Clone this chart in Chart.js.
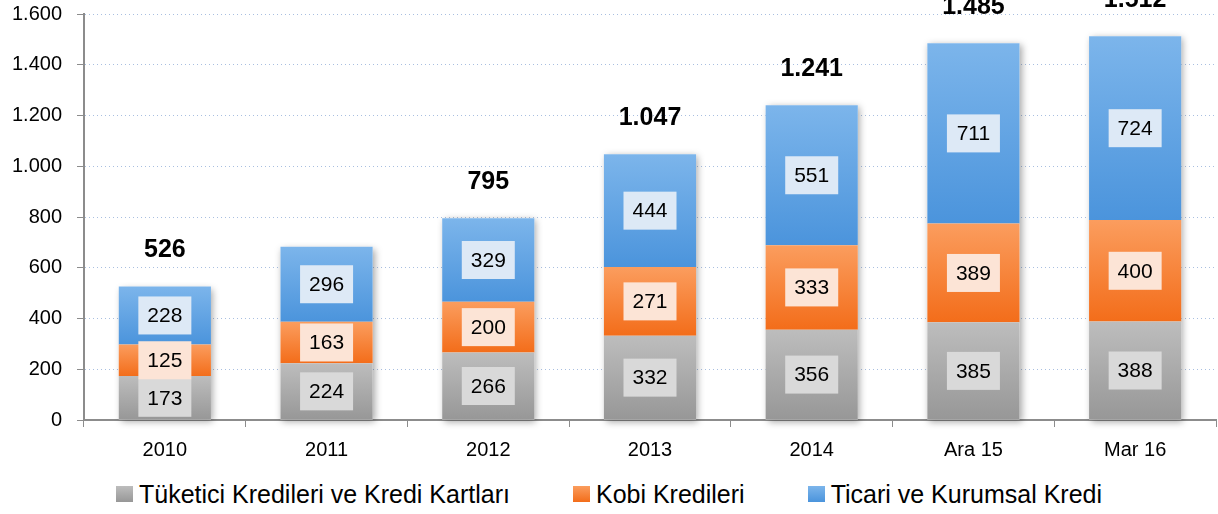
<!DOCTYPE html>
<html>
<head>
<meta charset="utf-8">
<script src="https://cdn.jsdelivr.net/npm/chart.js@4.4.0/dist/chart.umd.min.js"></script>
<style>
  html, body { margin: 0; padding: 0; background: #fff; }
  #wrap { width: 1218px; height: 514px; position: relative; }
  #chartBox { position: absolute; left: 0; top: 0; width: 1218px; height: 470px; }
  #legend {
    position: absolute; left: 0; top: 480px; width: 1218px; height: 28px;
    display: flex; justify-content: center; align-items: center; gap: 63px;
    font-family: 'Liberation Sans', Arial, sans-serif; font-size: 25px; line-height: 28px; color: #000;
  }
  #legend .item { display: flex; align-items: center; white-space: nowrap; }
  #legend .sw { width: 17px; height: 16px; margin-right: 6px; }
</style>
</head>
<body>
<div id="wrap">
  <div id="chartBox"><canvas id="myChart"></canvas></div>
  <div id="legend"></div>
</div>
<script>
const categories = ["2010", "2011", "2012", "2013", "2014", "Ara 15", "Mar 16"];
const seriesNames = ["Tüketici Kredileri ve Kredi Kartları", "Kobi Kredileri", "Ticari ve Kurumsal Kredi"];
const tuketici = [173, 224, 266, 332, 356, 385, 388];
const kobi = [125, 163, 200, 271, 333, 389, 400];
const ticari = [228, 296, 329, 444, 551, 711, 724];
// totals shown above bars (2011 has none in the original)
const totalLabels = [526, null, 795, 1047, 1241, 1485, 1512];
const yTicks = [0, 200, 400, 600, 800, 1000, 1200, 1400, 1600];

const series = [tuketici, kobi, ticari];
const gradColors = [
  ["#bdbdbd", "#979797"],
  ["#fb9d5e", "#f36d1a"],
  ["#7cb5eb", "#4b94dc"],
];
const boxColors = ["#d9d9d9", "#fce4d6", "#dde9f6"];
const FONT = "'Liberation Sans', Arial, sans-serif";

const fmt = (v) => String(v).replace(/\B(?=(\d{3})+(?!\d))/g, ".");

// legend
const legend = document.getElementById("legend");
seriesNames.forEach((name, i) => {
  legend.innerHTML += `
    <div class="item">
      <div class="sw" style="background: linear-gradient(${gradColors[i][0]}, ${gradColors[i][1]})"></div>
      <span>${name}</span>
    </div>`;
});

const segGradient = (c) => {
  const chart = c.chart;
  const fallback = gradColors[c.datasetIndex][1];
  const y = chart.scales && chart.scales.y;
  if (!y || !chart.chartArea || c.dataIndex === undefined) return fallback;
  let bottom = 0;
  for (let d = 0; d < c.datasetIndex; d++) bottom += series[d][c.dataIndex];
  const top = bottom + series[c.datasetIndex][c.dataIndex];
  const y0 = y.getPixelForValue(top);
  const y1 = y.getPixelForValue(bottom);
  if (!isFinite(y0) || !isFinite(y1)) return fallback;
  const g = chart.ctx.createLinearGradient(0, y0, 0, y1);
  g.addColorStop(0, gradColors[c.datasetIndex][0]);
  g.addColorStop(1, gradColors[c.datasetIndex][1]);
  return g;
};

const shadowPlugin = {
  id: "barShadow",
  beforeDatasetsDraw(chart) {
    const ctx = chart.ctx;
    const bottomMeta = chart.getDatasetMeta(0);
    const topMeta = chart.getDatasetMeta(2);
    ctx.save();
    ctx.shadowColor = "rgba(0,0,0,0.35)";
    ctx.shadowBlur = 7;
    ctx.shadowOffsetX = 2;
    ctx.shadowOffsetY = 2;
    ctx.fillStyle = "#fff";
    topMeta.data.forEach((el, i) => {
      const base = bottomMeta.data[i].base;
      ctx.fillRect(el.x - el.width / 2, el.y, el.width, base - el.y);
    });
    ctx.restore();
  },
};

const labelPlugin = {
  id: "segLabels",
  afterDatasetsDraw(chart) {
    const ctx = chart.ctx;
    ctx.save();
    ctx.textAlign = "center";
    ctx.textBaseline = "middle";
    chart.data.datasets.forEach((ds, di) => {
      const meta = chart.getDatasetMeta(di);
      meta.data.forEach((el, i) => {
        const cy = (el.y + el.base) / 2;
        const w = 53, h = 38;
        ctx.fillStyle = boxColors[di];
        ctx.fillRect(el.x - w / 2, cy - h / 2, w, h);
        ctx.fillStyle = "#000";
        ctx.font = "21px " + FONT;
        ctx.fillText(fmt(ds.data[i]), el.x, cy + 1);
      });
    });
    const topMeta = chart.getDatasetMeta(2);
    ctx.font = "bold 25px " + FONT;
    topMeta.data.forEach((el, i) => {
      if (totalLabels[i] == null) return;
      ctx.fillText(fmt(totalLabels[i]), el.x, el.y - 36);
    });
    ctx.restore();
  },
};

const ctx = document.getElementById("myChart");

new Chart(ctx, {
  type: "bar",
  data: {
    labels: categories,
    datasets: [
      { label: seriesNames[0], data: tuketici, backgroundColor: segGradient },
      { label: seriesNames[1], data: kobi, backgroundColor: segGradient },
      { label: seriesNames[2], data: ticari, backgroundColor: segGradient },
    ],
  },
  options: {
    responsive: true,
    maintainAspectRatio: false,
    animation: false,
    layout: { padding: { top: 14, right: 2, left: 4, bottom: 0 } },
    datasets: { bar: { categoryPercentage: 1, barPercentage: 0.57, borderWidth: 0 } },
    plugins: {
      tooltip: { enabled: false },
      legend: { display: false },
    },
    scales: {
      x: {
        stacked: true,
        grid: {
          offset: true,
          drawOnChartArea: false,
          color: "#8c8c8c",
          tickLength: 7,
        },
        border: { color: "#8c8c8c", width: 2 },
        ticks: {
          color: "#000",
          padding: 11,
          font: { family: FONT, size: 20 },
        },
        afterFit: (s) => { s.height = 50; },
      },
      y: {
        stacked: true,
        min: 0,
        max: 1600,
        afterBuildTicks: (s) => { s.ticks = yTicks.map((v) => ({ value: v })); },
        grid: {
          color: "#a9bfe0",
          tickColor: "#8c8c8c",
          tickLength: 7,
        },
        border: { color: "#8c8c8c", width: 2, dash: [1, 3] },
        ticks: {
          color: "#000",
          padding: 15,
          font: { family: FONT, size: 20 },
          callback: (v) => fmt(v),
        },
        afterFit: (s) => {
          s.width = 80;
          s.paddingTop = 0;
          s.paddingBottom = 0;
        },
      },
    },
  },
  plugins: [shadowPlugin, labelPlugin],
});
</script>
</body>
</html>
